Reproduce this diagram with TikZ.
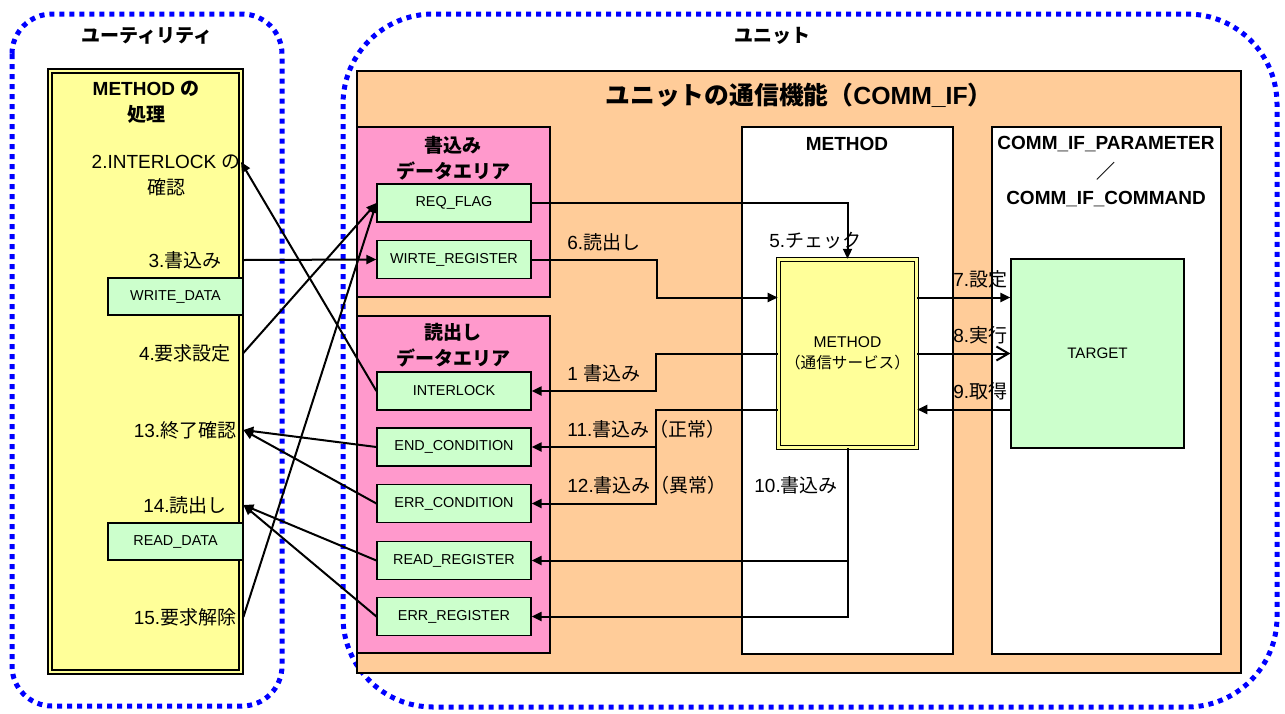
\documentclass[tikz,border=0pt]{standalone}
\usepackage{fontspec}
\setmainfont{Liberation Sans}
\newfontfamily\jp{Noto Sans CJK JP}
\usetikzlibrary{arrows.meta}
\definecolor{panelyellow}{RGB}{255,255,153}
\definecolor{unitorange}{RGB}{255,204,153}
\definecolor{areapink}{RGB}{255,153,204}
\definecolor{regreen}{RGB}{204,255,204}
\tikzset{
  fence/.style={draw=blue,line width=2.5pt,dash pattern=on 2.5pt off 2.5pt},
  regbox/.style={draw,fill=regreen,line width=0.6pt,minimum width=77pt,minimum height=19pt,inner sep=0pt,font=\fontsize{7.2}{8}\selectfont},
  steplbl/.style={inner sep=0pt,font=\fontsize{9.5}{11}\selectfont},
  hd/.style={inner sep=1pt,align=center,font=\fontsize{9.5}{13}\selectfont\bfseries},
  jhd/.style={hd,font=\jp\fontsize{9.5}{13}\selectfont\bfseries},
  arr/.style={line width=1pt,-{Triangle[length=5pt,width=4.5pt]}},
}
\begin{document}
\begin{tikzpicture}[x=0.5pt,y=-0.5pt]
\useasboundingbox (0,0) rectangle (1285,713);
% dotted boundaries
\draw[fence,rounded corners=20pt] (12,14) rectangle (282,706);
\draw[fence,rounded corners=45pt] (343,14) rectangle (1277,707);
\node[jhd] (utiltitle) at (147,36) {ユーティリティ};
\node[jhd] (unittitle) at (772,36) {ユニット};
% utility side
\draw[fill=panelyellow,double=panelyellow,double distance=1.4pt,line width=0.9pt] (50,71) rectangle (241,672);
\node[hd] (proctitle) at (146,102) {METHOD {\jp の}\\{\jp 処理}};
% unit side
\draw[fill=unitorange,line width=0.6pt] (357,71) rectangle (1241,673);
\node[font=\fontsize{12.4}{14}\selectfont\bfseries] (commtitle) at (799,95) {{\jp ユニットの通信機能（}COMM\_IF{\jp ）}};
\draw[fill=areapink,line width=0.7pt] (357,127) rectangle (550,297);
\draw[fill=areapink,line width=0.7pt] (357,316) rectangle (550,653);
\node[jhd] (wareatitle) at (453,158) {書込み\\データエリア};
\node[jhd] (rareatitle) at (453,345.5) {読出し\\データエリア};
\draw[fill=white,line width=0.7pt] (742,127) rectangle (953,654);
\draw[fill=white,line width=0.7pt] (992,127) rectangle (1221,654);
\node[hd] (methtitle) at (847,144) {METHOD};
\node[hd] (partitle) at (1106,144) {COMM\_IF\_PARAMETER};
\node[jhd] (slash) at (1106,171) {／};
\node[hd] (cmdtitle) at (1106,199) {COMM\_IF\_COMMAND};
% registers
\foreach \name/\txt/\ypos in {reqflag/REQ\_FLAG/203, wreg/WIRTE\_REGISTER/259.5,
    intlk/INTERLOCK/391, endc/END\_CONDITION/447, errc/ERR\_CONDITION/503.5,
    readr/READ\_REGISTER/560.5, errr/ERR\_REGISTER/616.5}
  \node[regbox] (\name) at (454,\ypos) {\txt};
\node[regbox,minimum width=67.5pt,minimum height=18.5pt] (wdata) at (175.5,296.5) {WRITE\_DATA};
\node[regbox,minimum width=67.5pt,minimum height=18.5pt] (rdata) at (175.5,541.5) {READ\_DATA};
\node[draw,fill=panelyellow,double=panelyellow,double distance=1.2pt,line width=0.7pt,
      minimum width=67pt,minimum height=94pt,align=center,font=\fontsize{7.8}{10.5}\selectfont]
      (meth) at (847.5,353.5) {METHOD\\{\jp （通信サービス）}};
\node[draw,fill=regreen,line width=0.6pt,minimum width=86.5pt,minimum height=94.5pt,
      font=\fontsize{7.6}{9}\selectfont] (target) at (1097.5,353.5) {TARGET};
% step labels
\node[steplbl,anchor=east] (s2) at (241,162) {2.INTERLOCK {\jp の}};
\node[steplbl] (s2b) at (166,187) {\jp 確認};
\node[steplbl,minimum width=58pt] (s3) at (185,260) {3.{\jp 書込み}};
\node[steplbl,minimum width=58pt] (s4) at (185,353) {4.{\jp 要求設定}};
\node[steplbl,minimum width=58pt] (s13) at (185,430) {13.{\jp 終了確認}};
\node[steplbl,minimum width=58pt] (s14) at (185,505) {14.{\jp 読出し}};
\node[steplbl,minimum width=58pt] (s15) at (185,617) {15.{\jp 要求解除}};
\node[steplbl,anchor=west] (s5) at (769,241) {5.{\jp チェック}};
\node[steplbl,anchor=west] (s6) at (567,242) {6.{\jp 読出し}};
\node[steplbl,anchor=west] (s1) at (567,373) {1 {\jp 書込み}};
\node[steplbl,anchor=west] (s11) at (567,429) {11.{\jp 書込み（正常）}};
\node[steplbl,anchor=west] (s12) at (567,485) {12.{\jp 書込み（異常）}};
\node[steplbl,anchor=west] (s10) at (754,485) {10.{\jp 書込み}};
\node[steplbl,anchor=west] (s7) at (953,279) {7.{\jp 設定}};
\node[steplbl,anchor=west] (s8) at (953,335) {8.{\jp 実行}};
\node[steplbl,anchor=west] (s9) at (953,391) {9.{\jp 取得}};
% connectors inside the unit
\draw[arr] (reqflag.east) -| (meth.north);
\draw[arr] (wreg.east) -- ++(125,0) |- ([yshift=28pt]meth.west);
\draw[arr] (meth.west) -- ++(-122,0) |- (intlk.east);
\draw[arr] ([yshift=-28pt]meth.west) -- ++(-122,0) |- (endc.east);
\draw[arr] ([yshift=-28pt]meth.west) -- ++(-122,0) |- (errc.east);
\draw[arr] (meth.south) |- (readr.east);
\draw[arr] (meth.south) |- (errr.east);
\draw[arr] ([yshift=28pt]meth.east) -- ([yshift=28pt]target.west);
\draw[line width=1pt,-{Straight Barb[length=6pt,width=7pt]}] (meth.east) -- (target.west);
\draw[arr] ([yshift=-28pt]target.west) -- ([yshift=-28pt]meth.east);
% connectors to the utility
\draw[arr] (intlk.west) -- (s2.east);
\draw[arr] (s3.east) -- (wreg.west);
\draw[arr] (s4.east) -- (reqflag.west);
\draw[arr] (s15.east) -- (reqflag.west);
\draw[arr] (endc.west) -- (s13.east);
\draw[arr] (errc.west) -- (s13.east);
\draw[arr] (readr.west) -- (s14.east);
\draw[arr] (errr.west) -- (s14.east);
\end{tikzpicture}
\end{document}
